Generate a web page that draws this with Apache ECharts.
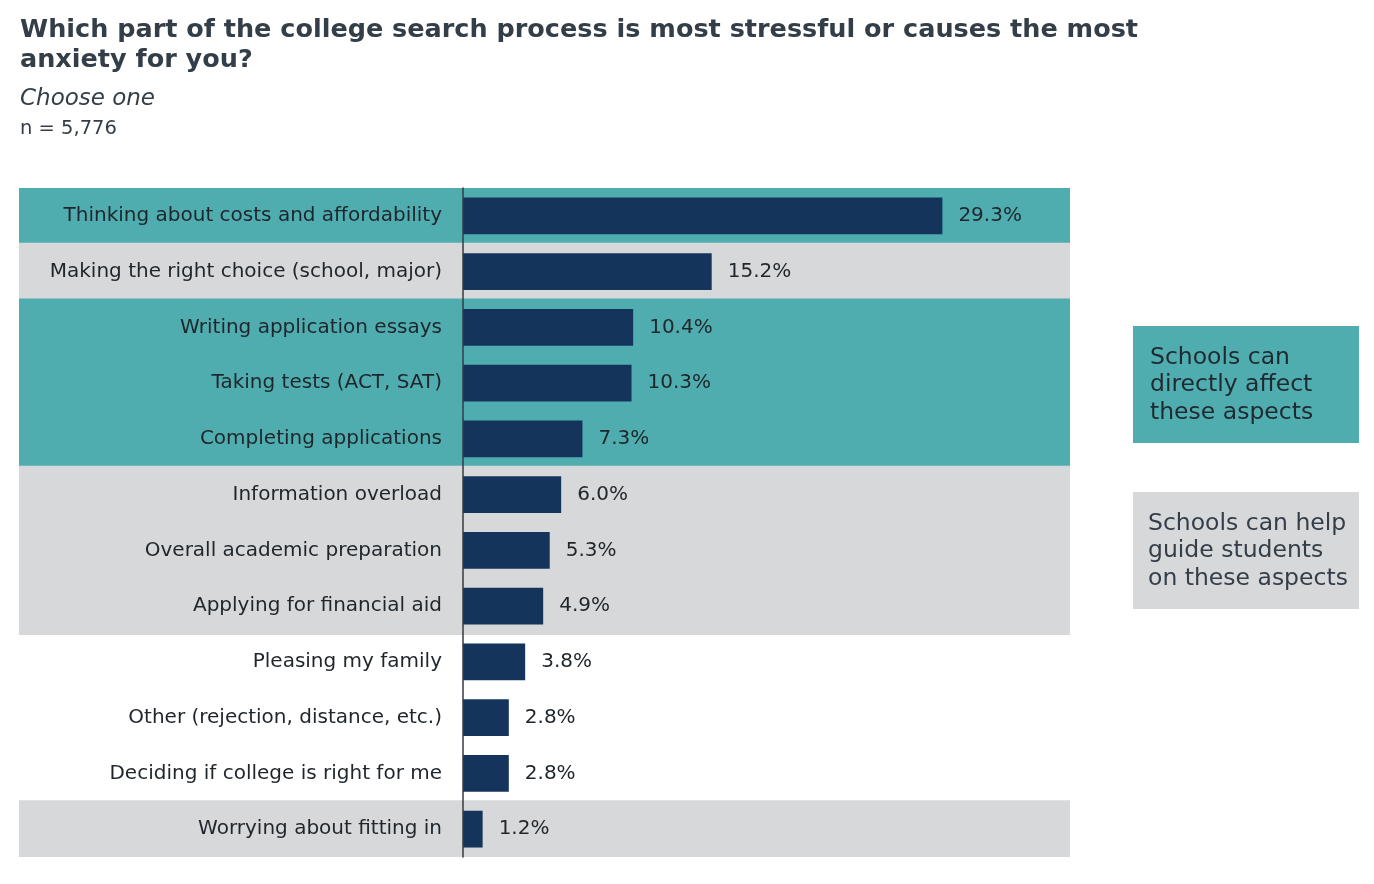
<!DOCTYPE html>
<html>
<head>
<meta charset="utf-8">
<script src="https://cdn.jsdelivr.net/npm/echarts@6/dist/echarts.min.js"></script>
<style>
html,body{margin:0;padding:0;background:#fff;}
#chart{width:1374px;height:884px;}
</style>
</head>
<body>
<div id="chart"></div>
<script>
const categories = [
  "Thinking about costs and affordability",
  "Making the right choice (school, major)",
  "Writing application essays",
  "Taking tests (ACT, SAT)",
  "Completing applications",
  "Information overload",
  "Overall academic preparation",
  "Applying for financial aid",
  "Pleasing my family",
  "Other (rejection, distance, etc.)",
  "Deciding if college is right for me",
  "Worrying about fitting in"
];
const values = [29.3, 15.2, 10.4, 10.3, 7.3, 6.0, 5.3, 4.9, 3.8, 2.8, 2.8, 1.2];
// group per row: "direct" = schools can directly affect, "guide" = schools can help guide, "none"
const groups = ["direct","guide","direct","direct","direct","guide","guide","guide","none","none","none","guide"];
const legendDirect = "Schools can\ndirectly affect\nthese aspects";
const legendGuide = "Schools can help\nguide students\non these aspects";

const TEAL = "#4FADB0", GRAY = "#D7D8DA", BAR = "#14345C", TEXT = "#1f262b", TITLE = "#333e48";
const groupColor = {direct: TEAL, guide: GRAY, none: "rgba(0,0,0,0)"};
const FONT = "DejaVu Sans";

const chart = echarts.init(document.getElementById('chart'));
const gTop = 188, gBottom = 27, gRight = 304;
chart.setOption({
  animation: false,
  backgroundColor: "#fff",
  textStyle: {fontFamily: FONT},
  title: [
    {text: "Which part of the college search process is most stressful or causes the most\nanxiety for you?",
     left: 15, top: 10,
     textStyle: {fontFamily: FONT, fontWeight: "bold", fontSize: 25.5, lineHeight: 30, color: TITLE}},
    {text: "Choose one", left: 15, top: 83,
     textStyle: {fontFamily: FONT, fontStyle: "italic", fontWeight: "normal", fontSize: 23, color: TITLE}},
    {text: "n = 5,776", left: 15, top: 114,
     textStyle: {fontFamily: FONT, fontWeight: "normal", fontSize: 19.5, color: TITLE}}
  ],
  grid: [
    {left: 19, right: gRight, top: gTop, bottom: gBottom},
    {left: 463, right: gRight, top: gTop, bottom: gBottom}
  ],
  xAxis: [
    {gridIndex: 0, type: "value", min: 0, max: 1, show: false},
    {gridIndex: 1, type: "value", min: 0, max: 37.1, show: false}
  ],
  yAxis: [
    {gridIndex: 0, type: "category", data: categories, inverse: true, show: false},
    {gridIndex: 1, type: "category", data: categories, inverse: true, z: 10,
     axisLine: {show: true, lineStyle: {color: "#333b42", width: 1.5}},
     axisTick: {show: false},
     axisLabel: {margin: 21, fontFamily: FONT, fontSize: 20, color: TEXT}}
  ],
  series: [
    {type: "bar", xAxisIndex: 0, yAxisIndex: 0, barWidth: "104%", silent: true, z: 0,
     data: groups.map(g => ({value: 1, itemStyle: {color: groupColor[g]}}))},
    {type: "bar", xAxisIndex: 1, yAxisIndex: 1, barWidth: "66%", z: 2,
     itemStyle: {color: BAR},
     label: {show: true, position: "right", distance: 16, fontFamily: FONT, fontSize: 20, color: TEXT,
       formatter: p => p.value.toFixed(1) + "%"},
     data: values}
  ],
  graphic: [
    {type: "rect", shape: {x: 1133, y: 326, width: 226, height: 117}, style: {fill: TEAL}},
    {type: "text", x: 1150, y: 344, style: {text: legendDirect, fontFamily: FONT, fontSize: 23.5, lineHeight: 27.5, fill: "#1f2a30", textVerticalAlign: "top"}},
    {type: "rect", shape: {x: 1133, y: 492, width: 226, height: 117}, style: {fill: GRAY}},
    {type: "text", x: 1148, y: 510, style: {text: legendGuide, fontFamily: FONT, fontSize: 23.5, lineHeight: 27.5, fill: "#333e48", textVerticalAlign: "top"}}
  ]
});
</script>
</body>
</html>
